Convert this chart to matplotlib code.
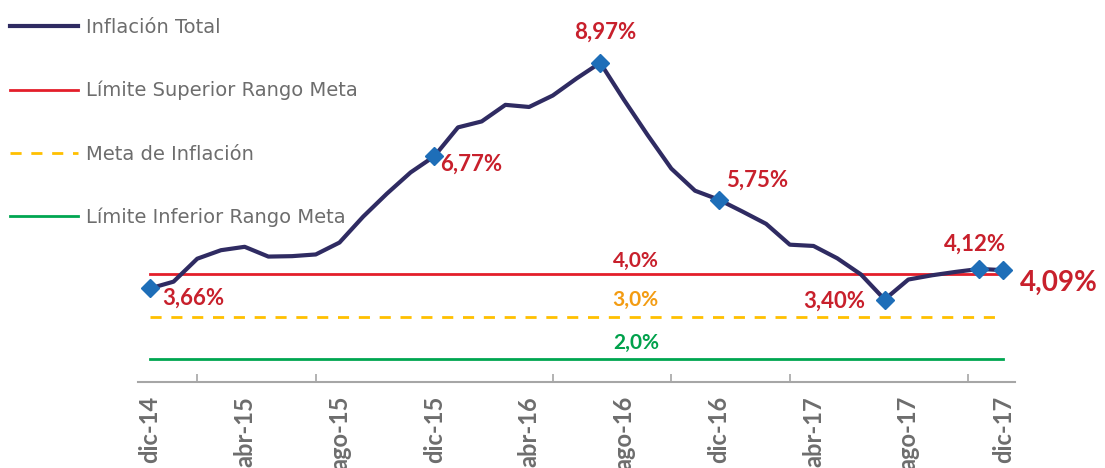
import matplotlib.pyplot as plt
from matplotlib.lines import Line2D

plt.rcParams['font.family'] = ['Lato', 'DejaVu Sans']

# monthly series dic-14 .. dic-17
months = ["dic", "ene", "feb", "mar", "abr", "may", "jun", "jul", "ago", "sep", "oct", "nov"]
years = ["14", "15", "15", "15", "15", "15", "15", "15", "15", "15", "15", "15",
         "15", "16", "16", "16", "16", "16", "16", "16", "16", "16", "16", "16",
         "16", "17", "17", "17", "17", "17", "17", "17", "17", "17", "17", "17", "17"]
inflacion = [3.66, 3.82, 4.36, 4.56, 4.64, 4.41, 4.42, 4.46, 4.74, 5.35, 5.89, 6.39,
             6.77, 7.45, 7.59, 7.98, 7.93, 8.20, 8.60, 8.97, 8.10, 7.27, 6.48, 5.96,
             5.75, 5.47, 5.18, 4.69, 4.66, 4.37, 3.99, 3.40, 3.87, 3.97, 4.05, 4.12, 4.09]
limite_sup = 4.0
meta = 3.0
limite_inf = 2.0

labels = [months[i % 12] + "-" + years[i] for i in range(len(inflacion))]
x = list(range(len(inflacion)))

# highlighted points: index, text, offset (px), alignment
marcados = [
    (0, "3,66%", (12, -10), "left"),
    (12, "6,77%", (6, -8), "left"),
    (19, "8,97%", (5, 31), "center"),
    (24, "5,75%", (7, 19), "left"),
    (31, "3,40%", (-19, -2), "right"),
    (35, "4,12%", (-4, 25), "center"),
]

navy = "#2f2b62"
red = "#e31e2a"
orange = "#ffc000"
green = "#00a651"
blue = "#1e6eb8"
lab_red = "#c8202c"
gray = "#6d6d6d"

fig = plt.figure(figsize=(11.05, 4.68), dpi=100)
ax = fig.add_axes([138 / 1105, 86 / 468, 877 / 1105, 382 / 468])

ax.plot([0, 36], [limite_sup, limite_sup], color=red, lw=2)
ax.plot([0, 36], [meta, meta], color=orange, lw=2, ls=(0, (4, 3.5)))
ax.plot([0, 36], [limite_inf, limite_inf], color=green, lw=2)
ax.plot(x, inflacion, color=navy, lw=3, zorder=3)

idx = [m[0] for m in marcados] + [36]
ax.plot(idx, [inflacion[i] for i in idx], ls="none", marker="D", ms=9,
        color=blue, zorder=4)

for i, txt, off, ha in marcados:
    ax.annotate(txt, (i, inflacion[i]), xytext=off, textcoords="offset pixels",
                ha=ha, va="center", color=lab_red, fontsize=16, fontweight="bold")
ax.annotate("4,09%", (36, inflacion[36]), xytext=(17, -13), textcoords="offset pixels",
            ha="left", va="center", color=lab_red, fontsize=20, fontweight="bold",
            annotation_clip=False)

ax.annotate("4,0%", (20.5, limite_sup), xytext=(0, 13), textcoords="offset pixels",
            ha="center", va="center", color=lab_red, fontsize=15, fontweight="bold")
ax.annotate("3,0%", (20.5, meta), xytext=(0, 17), textcoords="offset pixels",
            ha="center", va="center", color="#f39c12", fontsize=15, fontweight="bold")
ax.annotate("2,0%", (20.5, limite_inf), xytext=(0, 16), textcoords="offset pixels",
            ha="center", va="center", color="#00a14b", fontsize=15, fontweight="bold")

ax.set_xlim(-0.5, 36.5)
ax.set_ylim(1.459, 10.447)
for s in ["top", "right", "left"]:
    ax.spines[s].set_visible(False)
ax.spines["bottom"].set_color("#a6a6a6")
ax.spines["bottom"].set_linewidth(1.5)
ax.set_yticks([])

ax.set_xticks(x[::4])
ax.set_xticklabels(labels[::4], rotation=90, va="top", color=gray,
                   fontsize=17, fontweight="bold")
ax.set_xticks([2, 7, 12, 17, 22, 27, 32, 34.5], minor=True)
ax.tick_params(axis="x", which="major", length=0, pad=10)
ax.tick_params(axis="x", which="minor", direction="in", length=6, width=1.2,
               color="#a6a6a6")

handles = [
    Line2D([], [], color=navy, lw=3),
    Line2D([], [], color=red, lw=2),
    Line2D([], [], color=orange, lw=2, ls=(0, (4, 3.5))),
    Line2D([], [], color=green, lw=2),
]
names = ["Inflación Total", "Límite Superior Rango Meta", "Meta de Inflación",
         "Límite Inferior Rango Meta"]
fig.legend(handles, names, loc="upper left", bbox_to_anchor=(0.0, 1 - 8 / 468),
           frameon=False, prop={"family": "DejaVu Sans", "size": 14},
           handlelength=3.5, handletextpad=0.4, labelspacing=2.27,
           labelcolor=gray, borderaxespad=0.0, borderpad=0.5)

plt.savefig("out.png", dpi=100)
